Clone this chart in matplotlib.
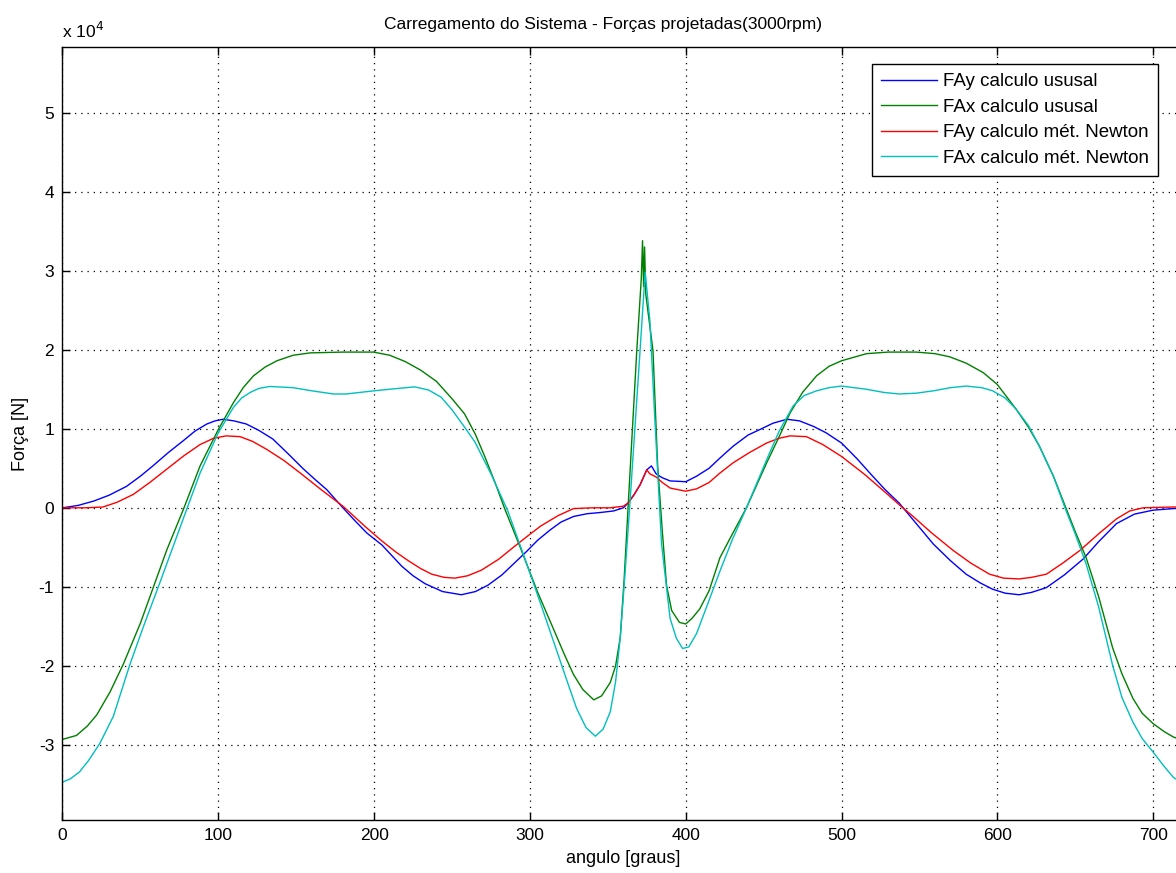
import matplotlib
matplotlib.use("Agg")
import matplotlib.pyplot as plt
from matplotlib.ticker import FuncFormatter

# ---- data (forces in units of 10^4 N) ----
fay_usual_x = [0, 10, 20, 30, 41, 50, 58, 68, 77.6, 85, 92.6, 98, 103, 110, 118, 126, 135, 145,
               154.7, 162, 169.6, 180, 188, 195.4, 205, 217.8, 225, 232.7, 244, 256, 265, 273, 282,
               290, 298, 305, 313, 320, 328, 336.7, 345, 353.7, 360, 363, 367, 370.7, 375, 378, 381,
               385, 390, 400, 407, 415, 422, 430.5, 440, 447.6, 456, 465, 473, 482, 490, 500, 510,
               520, 528, 537, 548, 559, 570, 580, 589, 597, 605, 614, 622, 631.5, 643, 655, 665,
               676.5, 688, 700, 713, 720]
fay_usual_y = [0, 0.03, 0.085, 0.16, 0.27, 0.40, 0.53, 0.70, 0.85, 0.97, 1.06, 1.10, 1.12, 1.10,
               1.06, 0.98, 0.87, 0.68, 0.49, 0.36, 0.23, 0, -0.17, -0.32, -0.47, -0.74, -0.86, -0.96,
               -1.06, -1.10, -1.06, -0.98, -0.85, -0.70, -0.55, -0.41, -0.28, -0.18, -0.11, -0.075,
               -0.06, -0.04, 0.0, 0.06, 0.17, 0.29, 0.48, 0.53, 0.43, 0.38, 0.34, 0.33, 0.40, 0.50,
               0.63, 0.78, 0.92, 0.99, 1.07, 1.12, 1.10, 1.03, 0.95, 0.82, 0.62, 0.40, 0.23, 0.06,
               -0.20, -0.46, -0.67, -0.84, -0.95, -1.03, -1.08, -1.10, -1.07, -1.01, -0.85, -0.65,
               -0.43, -0.20, -0.08, -0.03, -0.01, 0]

fax_usual_x = [0, 9, 16, 22, 30.5, 39, 50, 58.4, 67, 77.6, 88.3, 100, 109.7, 116, 122.6, 130,
               137.6, 148, 159, 180, 199.6, 210, 220, 230, 240, 250, 258, 265, 271, 278, 283.6, 294,
               305, 315.5, 322, 328, 334, 341, 346, 351.6, 355, 358, 360.5, 363, 368.6, 371.5,
               372.3, 373, 373.6, 374.4, 376, 379, 382, 385, 387.7, 391, 396, 400, 404, 409, 415,
               422, 430, 439, 452, 460, 467, 475, 484, 492, 500, 516, 530, 548, 560, 569.5, 580,
               591, 600, 612, 620, 627, 636, 644, 650, 657, 665, 674, 680, 687, 693, 700, 707, 713,
               720]
fax_usual_y = [-2.93, -2.88, -2.76, -2.62, -2.33, -1.98, -1.46, -1.0, -0.53, -0.02, 0.53, 0.99,
               1.33, 1.52, 1.67, 1.78, 1.86, 1.93, 1.96, 1.97, 1.97, 1.93, 1.85, 1.74, 1.60, 1.38,
               1.19, 0.93, 0.65, 0.30, 0, -0.51, -1.07, -1.55, -1.85, -2.11, -2.30, -2.43, -2.38,
               -2.21, -2.0, -1.64, -0.9, 0, 1.99, 2.9, 3.38, 2.8, 3.3, 2.7, 2.45, 1.99, 0.53, -0.3,
               -0.98, -1.3, -1.45, -1.47, -1.40, -1.28, -1.05, -0.63, -0.33, 0, 0.57, 0.9, 1.20,
               1.46, 1.67, 1.79, 1.86, 1.95, 1.97, 1.97, 1.95, 1.91, 1.83, 1.71, 1.56, 1.25, 1.02,
               0.78, 0.40, 0, -0.30, -0.63, -1.12, -1.77, -2.10, -2.41, -2.60, -2.73, -2.83, -2.90,
               -2.95]

fay_newton_x = [0, 15, 26, 35, 45.5, 56, 67, 78, 88.3, 97, 105, 114, 122, 131, 142, 152.6, 166,
                180, 195, 205, 214, 222, 230, 237, 245, 251.8, 260, 268.8, 280, 290, 299, 307, 318,
                328, 340, 351.6, 360, 363, 367, 370.7, 375, 377, 381, 385, 390, 400, 407, 415, 422,
                430.5, 441, 452, 460, 467, 477.5, 488, 500, 515, 529, 537, 546, 558, 571.7, 583,
                595, 604, 614, 622, 631.5, 642, 653, 665, 676.5, 685, 693.6, 713, 720]
fay_newton_y = [0, 0, 0.01, 0.07, 0.17, 0.32, 0.49, 0.66, 0.80, 0.88, 0.91, 0.90, 0.84, 0.74,
                0.60, 0.44, 0.23, 0.02, -0.25, -0.42, -0.56, -0.67, -0.77, -0.84, -0.88, -0.89,
                -0.86, -0.79, -0.65, -0.49, -0.35, -0.23, -0.10, -0.01, 0, 0, 0.02, 0.06, 0.17,
                0.29, 0.48, 0.43, 0.39, 0.32, 0.25, 0.21, 0.24, 0.32, 0.44, 0.57, 0.70, 0.82, 0.88,
                0.91, 0.90, 0.80, 0.65, 0.42, 0.18, 0.04, -0.11, -0.32, -0.54, -0.70, -0.84, -0.89,
                -0.90, -0.88, -0.84, -0.70, -0.54, -0.33, -0.14, -0.04, 0, 0.01, 0.01]

fax_newton_x = [0, 5, 11, 17, 24, 32.6, 43.3, 52, 61.5, 71, 79.7, 88.3, 100, 109.7, 115, 120.5,
                126, 133, 148, 160, 174, 182, 191, 200, 210, 226, 235, 243, 250, 257, 264.5, 275,
                285.8, 296, 307, 317.6, 324, 330, 336, 342, 347, 351.6, 355, 358, 361, 364, 369.6,
                374, 377, 380, 384.5, 390, 394, 398, 402, 407, 415, 422, 430, 439, 452, 460, 469,
                476, 484, 492, 500, 516, 527, 537, 548, 559, 570, 580, 590, 597, 605, 612, 620, 627,
                636, 644, 650, 657, 665, 674, 680, 687, 693, 700, 707, 713, 720]
fax_newton_y = [-3.47, -3.43, -3.34, -3.19, -2.98, -2.64, -1.98, -1.50, -1.0, -0.49, -0.02, 0.44,
                0.95, 1.27, 1.39, 1.46, 1.51, 1.535, 1.52, 1.48, 1.44, 1.44, 1.46, 1.48, 1.50, 1.53,
                1.49, 1.40, 1.24, 1.05, 0.84, 0.43, -0.04, -0.6, -1.22, -1.83, -2.2, -2.54, -2.78,
                -2.89, -2.80, -2.58, -2.2, -1.64, -0.85, 0, 1.66, 2.98, 2.37, 1.19, -0.46, -1.40,
                -1.65, -1.78, -1.76, -1.59, -1.17, -0.80, -0.40, 0, 0.61, 0.97, 1.29, 1.42, 1.48,
                1.52, 1.54, 1.50, 1.46, 1.44, 1.45, 1.48, 1.52, 1.54, 1.52, 1.48, 1.39, 1.25, 1.04,
                0.78, 0.40, -0.03, -0.33, -0.71, -1.25, -1.99, -2.40, -2.71, -2.92, -3.09, -3.27,
                -3.41, -3.50]

labels = ["FAy calculo ususal", "FAx calculo ususal",
          "FAy calculo mét. Newton", "FAx calculo mét. Newton"]
x_ticks = [0, 100, 200, 300, 400, 500, 600, 700]
y_ticks = [-3, -2, -1, 0, 1, 2, 3, 4, 5]
SCALE = 1e4

plt.rcParams['font.family'] = ['Liberation Sans', 'DejaVu Sans']

W, H = 1176, 873
fig = plt.figure(figsize=(W / 100, H / 100), dpi=100)
left_px, top_px, bottom_px = 62.5, 47, 820
px_per_unit = 1.558
xmax = 720
ax = fig.add_axes([left_px / W, (H - bottom_px) / H,
                   xmax * px_per_unit / W, (bottom_px - top_px) / H])

ax.plot(fay_usual_x, [v * SCALE for v in fay_usual_y], color=(0, 0, 1), lw=1, label=labels[0])
ax.plot(fax_usual_x, [v * SCALE for v in fax_usual_y], color=(0, 0.5, 0), lw=1, label=labels[1])
ax.plot(fay_newton_x, [v * SCALE for v in fay_newton_y], color=(1, 0, 0), lw=1, label=labels[2])
ax.plot(fax_newton_x, [v * SCALE for v in fax_newton_y], color=(0, 0.75, 0.75), lw=1, label=labels[3])

ax.set_xlim(0, xmax)
ax.set_ylim(-3.95 * SCALE, 5.83 * SCALE)
ax.set_xticks(x_ticks)
ax.set_yticks([t * SCALE for t in y_ticks])
ax.yaxis.set_major_formatter(FuncFormatter(lambda v, p: f"{v / SCALE:g}"))
ax.grid(True, color='black', linestyle=(0, (1, 4)), linewidth=0.9)
ax.tick_params(direction='in', length=6, width=1, top=True, right=True,
               labelsize=12.5, colors='black', pad=6)
for s in ax.spines.values():
    s.set_linewidth(1)
    s.set_color('black')

fig.text(603 / W, 1 - 25 / H, "Carregamento do Sistema - Forças projetadas(3000rpm)",
         fontsize=12.5, ha='center', va='center')
ax.set_xlabel("angulo [graus]", fontsize=13, labelpad=5)
ax.set_ylabel("Força [N]", fontsize=13, labelpad=7)
fig.text(left_px / W, 1 - 38 / H, "x 10$^{4}$", fontsize=12.5, ha='left', va='baseline')

leg = ax.legend(loc='upper left', bbox_to_anchor=(872 / W, 1 - 64 / H),
                bbox_transform=fig.transFigure, borderaxespad=0, fontsize=13.5,
                fancybox=False, framealpha=1, edgecolor='black', handlelength=3.0,
                handletextpad=0.3, labelspacing=0.45, borderpad=0.48)
leg.get_frame().set_linewidth(1)

fig.savefig("out.png", dpi=100)
